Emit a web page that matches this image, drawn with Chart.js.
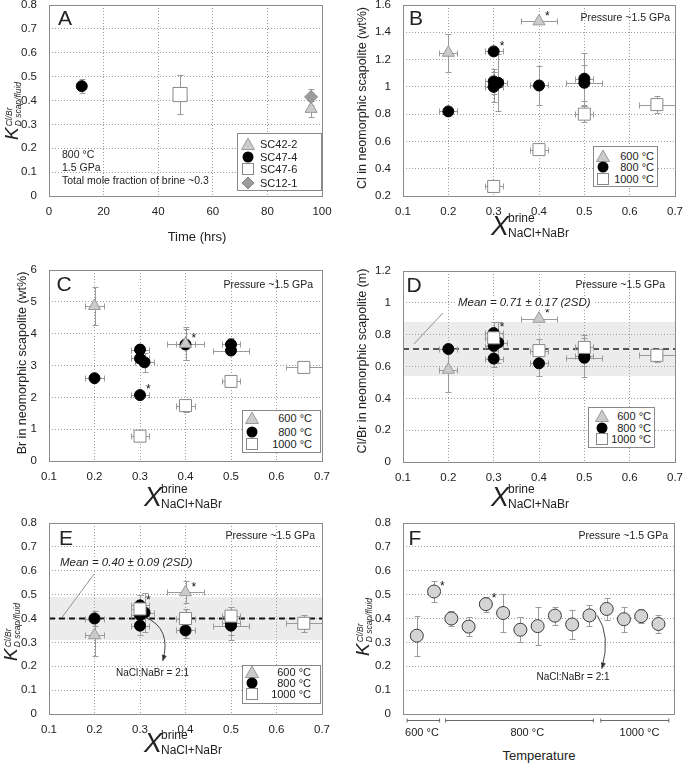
<!DOCTYPE html>
<html><head><meta charset="utf-8">
<script src="https://cdn.jsdelivr.net/npm/chart.js@4/dist/chart.umd.min.js"></script>
<style>
body{margin:0;background:#fff;width:685px;height:764px;position:relative;overflow:hidden;font-family:"Liberation Sans",Arial,Helvetica,sans-serif;color:#222}
canvas{position:absolute}
.t{position:absolute;white-space:nowrap;line-height:1;color:#222;font-weight:normal}
svg{position:absolute}
</style></head><body>
<script>
// ================= DATA =================
// Panel A : K_D(Cl/Br) vs time, 800 °C
const aSamples = ['SC42-2', 'SC47-4', 'SC47-6', 'SC12-1'];
const aTimeHrs = [96, 12, 48, 96];
const aKd      = [0.365, 0.46, 0.425, 0.415];
const aKdErr   = [0.035, 0.03, 0.08, 0.035];

// Panels B–E : x = mole fraction of brine (NaCl+NaBr)
const temps    = ['600 °C', '800 °C', '1000 °C'];
const x600     = [0.2, 0.4];
const x800     = [0.2, 0.3, 0.3, 0.3, 0.31, 0.4, 0.5, 0.5];
const x1000    = [0.3, 0.4, 0.5, 0.66];
const xErr600  = [0.02, 0.04];
const xErr800  = [0.02, 0.02, 0.02, 0.02, 0.02, 0.02, 0.02, 0.04];
const xErr1000 = [0.02, 0.02, 0.02, 0.04];
const star600  = [1];
const star800  = [1];

// B : Cl in scapolite (wt%)
const cl600 = [1.25, 1.48],  clErr600 = [0.14, 0.01];
const cl800 = [0.82, 1.26, 1.04, 1.00, 1.03, 1.01, 1.06, 1.03];
const clErr800 = [0.02, 0.03, 0.09, 0.11, 0.21, 0.145, 0.19, 0.13];
const cl1000 = [0.27, 0.54, 0.80, 0.87], clErr1000 = [0.01, 0.04, 0.06, 0.06];

// C : Br in scapolite (wt%)
const br600 = [4.87, 3.68], brErr600 = [0.6, 0.52];
const br800 = [2.60, 2.07, 3.50, 3.22, 3.10, 3.66, 3.66, 3.47];
const brErr800 = [0.05, 0.05, 0.18, 0.10, 0.30, 0.50, 0.20, 0.12];
const br1000 = [0.78, 1.74, 2.50, 2.94], brErr1000 = [0.05, 0.20, 0.15, 0.12];

// D : Cl/Br in scapolite (molar)
const cb600 = [0.58, 0.90], cbErr600 = [0.14, 0.01];
const cb800 = [0.71, 0.81, 0.73, 0.65, 0.75, 0.62, 0.665, 0.655];
const cbErr800 = [0.02, 0.07, 0.05, 0.05, 0.13, 0.08, 0.13, 0.05];
const cb1000 = [0.78, 0.70, 0.72, 0.67], cbErr1000 = [0.04, 0.07, 0.06, 0.04];
const cbMean = 0.71, cbMean2SD = 0.17;

// E : K_D(Cl/Br)
const kd600 = [0.33, 0.51], kdErr600 = [0.085, 0.045];
const kd800 = [0.40, 0.455, 0.415, 0.37, 0.425, 0.35, 0.38, 0.37];
const kdErr800 = [0.03, 0.045, 0.02, 0.04, 0.08, 0.03, 0.07, 0.04];
const kd1000 = [0.44, 0.40, 0.41, 0.38], kdErr1000 = [0.06, 0.04, 0.04, 0.035];
const kdMean = 0.40, kdMean2SD = 0.09;

// F : K_D(Cl/Br) by experiment, grouped by temperature
const fRun   = [1, 2, 3, 4, 5, 6, 7, 8, 9, 10, 11, 12, 13, 14, 15];
const fKd    = [0.328, 0.513, 0.40, 0.366, 0.46, 0.423, 0.353, 0.368, 0.412, 0.375, 0.413, 0.44, 0.397, 0.41, 0.377];
const fKdErr = [0.084, 0.042, 0.032, 0.039, 0.031, 0.08, 0.052, 0.08, 0.038, 0.062, 0.043, 0.045, 0.053, 0.028, 0.038];
const fStars = [1, 4];
const fGroupFrom  = [0.44, 2.67, 11.66];
const fGroupTo    = [2.32, 11.23, 15.6];
const fGroupLabel = [1.3, 7.4, 13.9];

// ================= STYLE / HELPERS =================
Chart.defaults.font.family = '"Liberation Sans", Arial, Helvetica, sans-serif';
Chart.defaults.font.size = 11;
Chart.defaults.color = '#222';

const ST600  = {pointStyle:'triangle', pointRadius:7, pointBackgroundColor:'#cbcbcb', pointBorderColor:'#999', pointBorderWidth:1};
const ST800  = {pointStyle:'circle', pointRadius:5.5, pointBackgroundColor:'#000', pointBorderColor:'#000', pointBorderWidth:1};
const ST1000 = {pointStyle:'rect', pointRadius:8.5, pointBackgroundColor:'#fff', pointBorderColor:'#888', pointBorderWidth:1};

function series(label, xs, ys, xe, ye, style, order, stars) {
  return Object.assign({label, data: xs.map((x, i) => ({x, y: ys[i]})), xErr: xe, yErr: ye, stars: stars || [], order, showLine:false}, style);
}

const errPlugin = {id:'err', beforeDatasetsDraw(chart) {
  const {ctx} = chart, x = chart.scales.x, y = chart.scales.y;
  ctx.save(); ctx.strokeStyle = '#9a9a9a'; ctx.lineWidth = 1;
  chart.data.datasets.forEach(ds => ds.data.forEach((p, i) => {
    const px = Math.round(x.getPixelForValue(p.x)) + 0.5, py = Math.round(y.getPixelForValue(p.y)) + 0.5;
    const ye = ds.yErr ? ds.yErr[i] : 0, xe = ds.xErr ? ds.xErr[i] : 0;
    ctx.beginPath();
    if (ye) {
      const t = Math.round(y.getPixelForValue(p.y + ye)) + 0.5, b = Math.round(y.getPixelForValue(p.y - ye)) + 0.5;
      ctx.moveTo(px, t); ctx.lineTo(px, b);
      ctx.moveTo(px - 3, t); ctx.lineTo(px + 3, t);
      ctx.moveTo(px - 3, b); ctx.lineTo(px + 3, b);
    }
    if (xe) {
      const l = Math.round(x.getPixelForValue(p.x - xe)) + 0.5, r = Math.round(x.getPixelForValue(p.x + xe)) + 0.5;
      ctx.moveTo(l, py); ctx.lineTo(r, py);
      ctx.moveTo(l, py - 3); ctx.lineTo(l, py + 3);
      ctx.moveTo(r, py - 3); ctx.lineTo(r, py + 3);
    }
    ctx.stroke();
  }));
  ctx.restore();
}};

const starPlugin = {id:'star', afterDatasetsDraw(chart) {
  const {ctx} = chart, x = chart.scales.x, y = chart.scales.y;
  ctx.save(); ctx.fillStyle = '#111'; ctx.font = '12px "Liberation Sans", Arial'; ctx.textAlign = 'left'; ctx.textBaseline = 'middle';
  chart.data.datasets.forEach(ds => (ds.stars || []).forEach(i => {
    const p = ds.data[i];
    ctx.fillText('*', x.getPixelForValue(p.x) + 6, y.getPixelForValue(p.y) - 5);
  }));
  ctx.restore();
}};

const boxPlugin = {id:'box', afterDraw(chart) {
  const a = chart.chartArea, ctx = chart.ctx;
  ctx.save(); ctx.strokeStyle = '#8a8a8a'; ctx.lineWidth = 1;
  ctx.strokeRect(Math.round(a.left) + 0.5, Math.round(a.top) + 0.5, Math.round(a.right - a.left), Math.round(a.bottom - a.top));
  ctx.restore();
}};

function decoPlugin(d) {
  return {id:'deco',
    beforeDraw(chart) {
      if (!d.band) return;
      const a = chart.chartArea, y = chart.scales.y, ctx = chart.ctx;
      const t = y.getPixelForValue(d.band[1]), b = y.getPixelForValue(d.band[0]);
      ctx.save(); ctx.fillStyle = '#ececec'; ctx.fillRect(a.left, t, a.right - a.left, b - t); ctx.restore();
    },
    beforeDatasetsDraw(chart) {
      const a = chart.chartArea, x = chart.scales.x, y = chart.scales.y, ctx = chart.ctx;
      ctx.save();
      if (d.mean !== undefined) {
        const py = y.getPixelForValue(d.mean);
        ctx.strokeStyle = d.meanColor; ctx.lineWidth = 2; ctx.setLineDash([6, 4]);
        ctx.beginPath(); ctx.moveTo(a.left, py); ctx.lineTo(a.right, py); ctx.stroke();
        ctx.setLineDash([]);
      }
      if (d.leader) {
        ctx.strokeStyle = '#777'; ctx.lineWidth = 0.8;
        ctx.beginPath();
        ctx.moveTo(x.getPixelForValue(d.leader[0]), y.getPixelForValue(d.leader[1]));
        ctx.lineTo(x.getPixelForValue(d.leader[2]), y.getPixelForValue(d.leader[3]));
        ctx.stroke();
      }
      if (d.brackets) {
        ctx.strokeStyle = '#444'; ctx.lineWidth = 0.8;
        const by = Math.round(a.bottom) + 6.5;
        d.brackets.from.forEach((f, i) => {
          const l = x.getPixelForValue(f), r = x.getPixelForValue(d.brackets.to[i]);
          ctx.beginPath(); ctx.moveTo(l, by); ctx.lineTo(r, by);
          ctx.moveTo(l, by - 2); ctx.lineTo(l, by + 2); ctx.moveTo(r, by - 2); ctx.lineTo(r, by + 2);
          ctx.stroke();
        });
      }
      ctx.restore();
    },
    afterDatasetsDraw(chart) {
      if (!d.arrow) return;
      const x = chart.scales.x, y = chart.scales.y, ctx = chart.ctx, A = d.arrow;
      const p0 = [x.getPixelForValue(A[0]), y.getPixelForValue(A[1])];
      const p1 = [x.getPixelForValue(A[2]), y.getPixelForValue(A[3])];
      const p2 = [x.getPixelForValue(A[4]), y.getPixelForValue(A[5])];
      ctx.save(); ctx.strokeStyle = '#333'; ctx.fillStyle = '#333'; ctx.lineWidth = 0.9;
      ctx.beginPath(); ctx.moveTo(p0[0], p0[1]); ctx.quadraticCurveTo(p1[0], p1[1], p2[0], p2[1]); ctx.stroke();
      const ang = Math.atan2(p2[1] - p1[1], p2[0] - p1[0]);
      ctx.beginPath();
      ctx.moveTo(p2[0], p2[1]);
      ctx.lineTo(p2[0] - 6 * Math.cos(ang) + 2.5 * Math.sin(ang), p2[1] - 6 * Math.sin(ang) - 2.5 * Math.cos(ang));
      ctx.lineTo(p2[0] - 6 * Math.cos(ang) - 2.5 * Math.sin(ang), p2[1] - 6 * Math.sin(ang) + 2.5 * Math.cos(ang));
      ctx.closePath(); ctx.fill();
      ctx.restore();
    }
  };
}

const fmt = v => String(Math.round(v * 1000) / 1000);
function axis(min, max, step, opts) {
  opts = opts || {};
  return {type:'linear', min, max,
    ticks:{display: opts.noTicks ? false : true, stepSize: step, padding: opts.pad, autoSkip:false, maxRotation:0, color:'#222', font:{size:11.5}, callback: fmt},
    grid:{display: opts.noGrid ? false : true, color:'#9e9e9e', lineWidth:1, drawTicks:false},
    border:{display:false, dash:[1, 2]}};
}

function makeChart(box, datasets, sx, sy, deco) {
  const W = 50, H = 25, PT = 20, PR = 22;
  const w = box.r - box.l + W + PR, h = box.b - box.t + PT + H;
  const c = document.createElement('canvas');
  c.width = w; c.height = h;
  Object.assign(c.style, {left: (box.l - W) + 'px', top: (box.t - PT) + 'px', width: w + 'px', height: h + 'px'});
  document.body.appendChild(c);
  sx.afterFit = s => { s.height = H; };
  sy.afterFit = s => { s.width = W; };
  return new Chart(c, {
    type:'scatter',
    data:{datasets},
    options:{responsive:false, animation:false, events:[],
      layout:{padding:{top:PT, right:PR, left:0, bottom:0}},
      scales:{x: sx, y: sy},
      plugins:{legend:{display:false}, tooltip:{enabled:false}}},
    plugins:[decoPlugin(deco || {}), errPlugin, starPlugin, boxPlugin]
  });
}

function T(html, x, y, css, anchor, rot) {
  const d = document.createElement('div');
  d.className = 't'; d.innerHTML = html;
  d.style.cssText += css || '';
  d.style.left = x + 'px'; d.style.top = y + 'px';
  const tx = anchor === 'l' ? '0' : anchor === 'r' ? '-100%' : '-50%';
  d.style.transform = 'translate(' + tx + ',-50%)' + (rot ? ' rotate(-90deg)' : '');
  document.body.appendChild(d);
  return d;
}

function marker(kind, cx, cy) {
  const shapes = {
    tri: '<polygon points="8,2 14.5,13.5 1.5,13.5" fill="#cbcbcb" stroke="#999"/>',
    cir: '<circle cx="8" cy="8" r="5.5" fill="#000"/>',
    sq:  '<rect x="2.5" y="2.5" width="11" height="11" fill="#fff" stroke="#888"/>',
    dia: '<polygon points="8,2 14,8 8,14 2,8" fill="#9b9b9b" stroke="#888"/>'
  };
  const s = document.createElementNS('http://www.w3.org/2000/svg', 'svg');
  s.setAttribute('width', 16); s.setAttribute('height', 16);
  s.style.left = (cx - 8) + 'px'; s.style.top = (cy - 8) + 'px';
  s.innerHTML = shapes[kind];
  document.body.appendChild(s);
}

// legend: box + markers + labels (labels left-aligned from tx, or right-aligned ending at tx)
function legend(l, t, w, h, kinds, labels, mx, rows, tx, align) {
  const d = document.createElement('div');
  d.style.cssText = 'position:absolute;left:' + l + 'px;top:' + t + 'px;width:' + w + 'px;height:' + h + 'px;border:1px solid #888;background:#fff;box-sizing:border-box';
  document.body.appendChild(d);
  kinds.forEach((k, i) => {
    marker(k, mx, rows[i]);
    T(labels[i], tx, rows[i], 'font-size:11px', align);
  });
}

const KLABEL = '<span style="font-style:italic;font-size:19px">K</span><span style="display:inline-block;vertical-align:-3px;font-style:italic;font-size:8.5px;line-height:9px;margin-left:1px">Cl/Br<br>D scap/fluid</span>';
function xBrine(cx, cy) {
  T('X', cx, cy, 'font-style:italic;font-size:27px');
  T('brine', cx + 8, cy - 8, 'font-size:12px', 'l');
  T('NaCl+NaBr', cx + 8, cy + 7, 'font-size:12px', 'l');
}
const PRESS = 'Pressure ~1.5 GPa';
const PSTYLE = 'font-size:10.5px';
const LSTYLE = 'font-size:21px';

// ================= PANEL A =================
const aStyles = [
  Object.assign({}, ST600, {order:3}),
  Object.assign({}, ST800, {order:2}),
  Object.assign({}, ST1000, {pointRadius:10, order:1}),
  {pointStyle:'rectRot', pointRadius:6.5, pointBackgroundColor:'#9b9b9b', pointBorderColor:'#888', pointBorderWidth:1, order:0}
];
makeChart({l:49, t:5, r:322, b:196},
  aSamples.map((s, i) => Object.assign({label:s, data:[{x:aTimeHrs[i], y:aKd[i]}], yErr:[aKdErr[i]], showLine:false}, aStyles[i])),
  axis(0, 100, 20, {pad:9}), axis(0, 0.8, 0.1, {pad:12}));

// ================= PANELS B–E =================
function tempSeries(y6, e6, y8, e8, y10, e10) {
  return [
    series(temps[0], x600, y6, xErr600, e6, ST600, 1, star600),
    series(temps[1], x800, y8, xErr800, e8, ST800, 2, star800),
    series(temps[2], x1000, y10, xErr1000, e10, ST1000, 0, [])
  ];
}
makeChart({l:403, t:5, r:675, b:196}, tempSeries(cl600, clErr600, cl800, clErr800, cl1000, clErr1000),
  axis(0.1, 0.7, 0.1, {pad:9}), axis(0.2, 1.6, 0.2, {pad:12}));
makeChart({l:49, t:270, r:322, b:461}, tempSeries(br600, brErr600, br800, brErr800, br1000, brErr1000),
  axis(0.1, 0.7, 0.1, {pad:9}), axis(0, 6, 1, {pad:12}));
makeChart({l:403, t:271, r:675, b:462}, tempSeries(cb600, cbErr600, cb800, cbErr800, cb1000, cbErr1000),
  axis(0.1, 0.7, 0.1, {pad:9}), axis(0, 1.2, 0.2, {pad:12}),
  {band:[cbMean - cbMean2SD, cbMean + cbMean2SD], mean:cbMean, meanColor:'#555', leader:[0.124, 0.741, 0.188, 0.936]});
makeChart({l:49, t:523, r:322, b:714}, tempSeries(kd600, kdErr600, kd800, kdErr800, kd1000, kdErr1000),
  axis(0.1, 0.7, 0.1, {pad:9}), axis(0, 0.8, 0.1, {pad:12}),
  {band:[kdMean - kdMean2SD, kdMean + kdMean2SD], mean:kdMean, meanColor:'#111', leader:[0.129, 0.406, 0.199, 0.586],
   arrow:[0.311, 0.405, 0.37, 0.36, 0.35, 0.222]});

// ================= PANEL F =================
const chartF = makeChart({l:403, t:523, r:674, b:714},
  [Object.assign({label:'K_D', data: fRun.map((r, i) => ({x:r, y:fKd[i]})), yErr:fKdErr, stars:fStars, showLine:false},
    {pointStyle:'circle', pointRadius:6.5, pointBackgroundColor:'#d4d4d4', pointBorderColor:'#3a3a3a', pointBorderWidth:1})],
  axis(0.2, 15.9, 1, {noTicks:true, noGrid:true}), axis(0, 0.8, 0.1, {pad:12}),
  {arrow:[11.45, 0.413, 12.25, 0.33, 11.72, 0.19], brackets:{from:fGroupFrom, to:fGroupTo}});

// ================= TEXT =================
// panel letters
T('A', 65, 16.5, LSTYLE); T('B', 416, 17, LSTYLE); T('C', 64, 283, LSTYLE);
T('D', 414, 284, LSTYLE); T('E', 66, 537, LSTYLE); T('F', 415, 537, LSTYLE);
// pressure notes
T(PRESS, 670, 17, PSTYLE, 'r'); T(PRESS, 313, 284, PSTYLE, 'r'); T(PRESS, 665, 284, PSTYLE, 'r');
T(PRESS, 315, 535, PSTYLE, 'r'); T(PRESS, 668, 535, PSTYLE, 'r');
// panel A notes
T('800 °C', 62, 154, 'font-size:10.5px', 'l');
T('1.5 GPa', 62, 167, 'font-size:10.5px', 'l');
T('Total mole fraction of brine ~0.3', 62, 179.5, 'font-size:10.5px', 'l');
// axis titles
T(KLABEL, 12, 111, '', 'c', true);
T('Time (hrs)', 197, 236, 'font-size:13px');
T('Cl in neomorphic scapolite (wt%)', 362, 98, 'font-size:12.5px', 'c', true);
xBrine(500, 226);
T('Br in neomorphic scapolite (wt%)', 22, 363, 'font-size:12.5px', 'c', true);
xBrine(153, 497);
T('Cl/Br in neomorphic scapolite (m)', 362, 361, 'font-size:12.5px', 'c', true);
xBrine(500, 497);
T(KLABEL, 11, 632, '', 'c', true);
xBrine(153, 743);
T(KLABEL, 363, 627, '', 'c', true);
T('Temperature', 539, 755, 'font-size:13px');
// mean labels
T('Mean = ' + cbMean.toFixed(2) + ' ± ' + cbMean2SD.toFixed(2) + ' (2SD)', 456, 303, 'font-size:11.5px;font-style:italic;background:#fff;padding:0 2px', 'l');
T('Mean = ' + kdMean.toFixed(2) + ' ± ' + kdMean2SD.toFixed(2) + ' (2SD)', 58, 563, 'font-size:11.5px;font-style:italic;background:#fff;padding:0 2px', 'l');
T('NaCl:NaBr = 2:1', 152.5, 673, 'font-size:10px');
T('NaCl:NaBr = 2:1', 573, 677, 'font-size:10px');
// F temperature group labels
fGroupLabel.forEach((v, i) => T(temps[i], chartF.scales.x.getPixelForValue(v) + 403 - chartF.chartArea.left, 732, 'font-size:11px'));
// legends
legend(237, 133, 85, 58, ['tri', 'cir', 'sq', 'dia'], aSamples, 248, [144.3, 156.7, 169.3, 182.7], 260, 'l');
legend(593, 146, 65, 41, ['tri', 'cir', 'sq'], temps, 603, [155.5, 167, 179], 654, 'r');
legend(242, 410, 79, 43, ['tri', 'cir', 'sq'], temps, 252, [418.3, 431.7, 444.3], 312, 'r');
legend(588, 407, 67, 41, ['tri', 'cir', 'sq'], temps, 601.5, [416, 427.5, 439], 651, 'r');
legend(242, 665, 79, 39, ['tri', 'cir', 'sq'], temps, 252, [672, 683, 694], 311, 'r');
</script>
</body></html>
